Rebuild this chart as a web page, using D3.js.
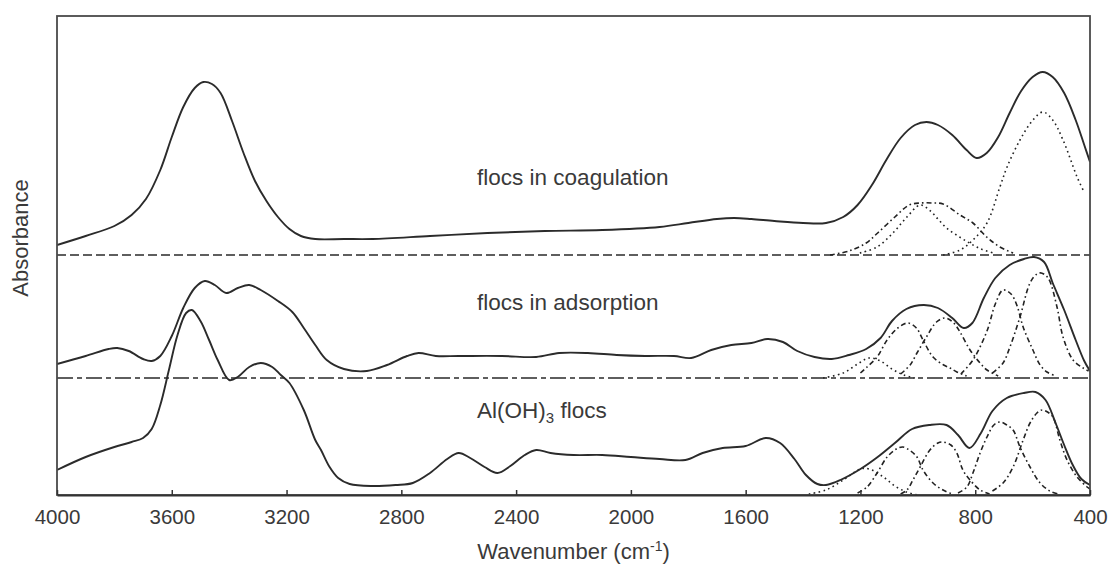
<!DOCTYPE html>
<html>
<head>
<meta charset="utf-8">
<script src="https://cdn.jsdelivr.net/npm/d3@7"></script>
<style>
  html, body { margin: 0; padding: 0; background: #ffffff; }
  svg { display: block; }
  text { font-family: "Liberation Sans", Arial, sans-serif; fill: #3a3a3a; }
</style>
</head>
<body>
<svg id="chart" width="1108" height="572"></svg>
<script>
// ---- data: FTIR spectra, [wavenumber (cm-1), absorbance above the spectrum's own baseline] ----
const wavenumberTicks = [4000, 3600, 3200, 2800, 2400, 2000, 1600, 1200, 800, 400];
const spectrumNames = ["flocs in coagulation", "flocs in adsorption", "Al(OH)3 flocs"];
const baselineOffsets = [2.40, 1.17, 0];   // vertical stacking of the three spectra

const coagulation = [
  [4000,0.10],[3900,0.19],[3800,0.29],[3740,0.40],[3690,0.56],[3640,0.85],[3600,1.18],
  [3560,1.48],[3520,1.67],[3490,1.73],[3460,1.71],[3430,1.62],[3390,1.34],[3350,1.02],
  [3310,0.74],[3270,0.54],[3230,0.38],[3190,0.26],[3150,0.19],[3100,0.16],[3000,0.16],
  [2900,0.16],[2700,0.19],[2500,0.22],[2300,0.24],[2100,0.25],[1900,0.28],[1800,0.32],
  [1700,0.36],[1640,0.37],[1580,0.36],[1500,0.34],[1400,0.32],[1320,0.32],[1260,0.38],
  [1210,0.50],[1160,0.70],[1110,0.95],[1060,1.17],[1010,1.30],[970,1.33],[930,1.30],
  [880,1.20],[830,1.05],[795,0.97],[760,1.02],[720,1.18],[680,1.42],[640,1.64],
  [600,1.78],[565,1.83],[530,1.78],[490,1.62],[450,1.35],[420,1.10],[400,0.93]
];
const adsorption = [
  [4000,0.14],[3900,0.22],[3820,0.29],[3790,0.30],[3750,0.27],[3700,0.19],[3670,0.17],
  [3640,0.22],[3600,0.42],[3560,0.70],[3520,0.90],[3485,0.97],[3450,0.93],[3410,0.85],
  [3370,0.90],[3330,0.93],[3290,0.88],[3230,0.77],[3180,0.66],[3140,0.50],[3100,0.33],
  [3060,0.18],[3000,0.09],[2920,0.07],[2850,0.13],[2780,0.22],[2740,0.25],[2680,0.22],
  [2600,0.22],[2450,0.22],[2330,0.21],[2250,0.25],[2150,0.25],[2050,0.23],[1950,0.22],
  [1850,0.22],[1790,0.20],[1720,0.28],[1650,0.33],[1580,0.35],[1525,0.39],[1470,0.36],
  [1420,0.27],[1360,0.21],[1300,0.19],[1240,0.23],[1180,0.29],[1130,0.40],[1090,0.57],
  [1040,0.69],[980,0.73],[930,0.70],[880,0.60],[840,0.50],[810,0.55],[770,0.80],
  [730,1.00],[680,1.13],[630,1.19],[595,1.21],[560,1.16],[530,0.95],[490,0.68],
  [450,0.38],[420,0.17],[400,0.07]
];
const aluminiumHydroxide = [
  [4000,0.25],[3900,0.38],[3800,0.48],[3740,0.53],[3700,0.57],[3670,0.66],[3640,0.90],
  [3610,1.25],[3580,1.60],[3550,1.82],[3530,1.85],[3500,1.74],[3470,1.55],[3440,1.35],
  [3400,1.15],[3370,1.18],[3330,1.28],[3290,1.32],[3250,1.28],[3220,1.20],[3190,1.12],
  [3140,0.85],[3100,0.55],[3080,0.45],[3050,0.28],[3020,0.17],[2980,0.11],[2900,0.09],
  [2820,0.10],[2760,0.12],
  [2700,0.22],[2640,0.36],[2600,0.42],[2560,0.37],[2510,0.28],[2465,0.22],[2420,0.29],
  [2370,0.40],[2330,0.45],[2280,0.42],[2200,0.40],[2100,0.40],[2000,0.38],[1900,0.36],
  [1810,0.35],[1750,0.42],[1680,0.47],[1600,0.49],[1530,0.57],[1480,0.52],[1430,0.36],
  [1390,0.20],[1350,0.11],[1320,0.10],[1270,0.15],[1200,0.26],[1140,0.38],[1080,0.52],
  [1020,0.66],[960,0.70],[900,0.70],[860,0.60],[820,0.47],[780,0.62],[740,0.84],
  [690,0.97],[630,1.02],[590,1.03],[555,0.95],[520,0.72],[490,0.50],[460,0.30],
  [430,0.16],[400,0.10]
];

// fitted component bands (1400-400 cm-1 region)
const coagulationBands = [
  [[1306,0],[1240,0.04],[1180,0.12],[1140,0.22],[1080,0.38],[1030,0.50],[990,0.52],[950,0.52],
   [912,0.51],[853,0.40],[808,0.32],[760,0.18],[714,0.08],[668,0.02]],
  [[1202,0.02],[1142,0.08],[1087,0.22],[1038,0.38],[992,0.50],[960,0.45],[930,0.36],[900,0.27],
   [860,0.19],[820,0.12],[780,0.06],[738,0.02]],
  [[912,0],[853,0.05],[808,0.15],[759,0.32],[714,0.68],[689,0.88],[644,1.15],[599,1.35],
   [564,1.43],[530,1.35],[494,1.15],[445,0.78],[424,0.65]]
];
const adsorptionBands = [
  [[1330,0],[1260,0.05],[1210,0.14],[1170,0.20],[1130,0.17],[1090,0.09],[1050,0.03],[1010,0]],
  [[1200,0.05],[1177,0.11],[1142,0.21],[1107,0.38],[1070,0.50],[1034,0.55],[1005,0.50],[982,0.38],
   [947,0.21],[910,0.13],[888,0.10],[864,0.06],[830,0.02]],
  [[1060,0.04],[1027,0.13],[1003,0.25],[968,0.42],[935,0.56],[905,0.60],[875,0.55],[853,0.46],
   [818,0.28],[783,0.15],[759,0.08],[720,0.02]],
  [[850,0.04],[808,0.18],[759,0.47],[730,0.74],[703,0.88],[675,0.84],[654,0.72],[633,0.51],
   [599,0.28],[574,0.13],[550,0.06],[520,0.02]],
  [[740,0.05],[703,0.15],[679,0.31],[644,0.61],[609,0.95],[585,1.04],[570,1.05],[546,1.00],
   [515,0.71],[494,0.41],[459,0.18],[424,0.10],[405,0.07]]
];
const aluminiumHydroxideBands = [
  [[1380,0.01],[1320,0.05],[1260,0.15],[1200,0.26],[1170,0.26],[1120,0.18],[1080,0.09],[1040,0.03],[1000,0]],
  [[1210,0.02],[1177,0.08],[1142,0.22],[1107,0.38],[1075,0.46],[1052,0.48],[1025,0.44],[1003,0.38],
   [982,0.25],[947,0.12],[912,0.05],[880,0.01]],
  [[1060,0.01],[1038,0.05],[1017,0.15],[992,0.28],[958,0.45],[930,0.52],[912,0.53],[885,0.50],
   [864,0.42],[843,0.25],[818,0.15],[783,0.05],[750,0.01]],
  [[860,0.02],[829,0.08],[808,0.22],[783,0.42],[759,0.58],[735,0.70],[714,0.73],[690,0.70],
   [668,0.65],[644,0.48],[609,0.28],[574,0.12],[540,0.04],[510,0.01]],
  [[740,0.04],[703,0.12],[668,0.28],[633,0.55],[609,0.72],[585,0.82],[567,0.85],[548,0.83],
   [529,0.78],[505,0.55],[480,0.35],[445,0.18],[410,0.08],[400,0.06]]
];

// ---- layout ----
const svg = d3.select("#chart");
const plot = { left: 57, right: 1090, top: 16, bottom: 495 };

const x = d3.scaleLinear().domain([4000, 400]).range([plot.left, plot.right]);
const y = d3.scaleLinear().domain([0, 4.79]).range([plot.bottom, plot.top]);

svg.append("defs").append("clipPath").attr("id", "plot-clip")
  .append("rect")
  .attr("x", plot.left).attr("y", plot.top)
  .attr("width", plot.right - plot.left).attr("height", plot.bottom - plot.top);

const g = svg.append("g").attr("clip-path", "url(#plot-clip)");

const lineFor = (offset) => d3.line()
  .x(d => x(d[0]))
  .y(d => y(d[1] + offset))
  .curve(d3.curveCatmullRom.alpha(0.5));

// dashed baselines of the two upper spectra
const baselineDash = ["9,4", "16,4,5,4"];
[0, 1].forEach(i => {
  g.append("line")
    .attr("x1", x(4000)).attr("x2", x(400))
    .attr("y1", y(baselineOffsets[i])).attr("y2", y(baselineOffsets[i]))
    .attr("stroke", "#2a2a2a").attr("stroke-width", 1.6)
    .attr("stroke-dasharray", baselineDash[i]);
});

// fitted bands: dash-dot ("dd") or dotted ("dot")
const bandSets = [coagulationBands, adsorptionBands, aluminiumHydroxideBands];
const bandKinds = [
  ["dd", "dot", "dot"],
  ["dot", "dd", "dd", "dd", "dd"],
  ["dot", "dd", "dd", "dd", "dd"]
];
const dashOf = { dd: "5,3,1.6,3", dot: "1.6,3.4" };
bandSets.forEach((bands, i) => {
  const line = lineFor(baselineOffsets[i]);
  bands.forEach((band, j) => {
    g.append("path")
      .attr("d", line(band))
      .attr("fill", "none")
      .attr("stroke", "#222")
      .attr("stroke-width", 1.6)
      .attr("stroke-dasharray", dashOf[bandKinds[i][j]]);
  });
});

// measured spectra
const spectra = [coagulation, adsorption, aluminiumHydroxide];
spectra.forEach((s, i) => {
  g.append("path")
    .attr("d", lineFor(baselineOffsets[i])(s))
    .attr("fill", "none")
    .attr("stroke", "#2b2b2b")
    .attr("stroke-width", 1.9)
    .attr("stroke-linejoin", "round");
});

// frame
svg.append("rect")
  .attr("x", plot.left).attr("y", plot.top)
  .attr("width", plot.right - plot.left).attr("height", plot.bottom - plot.top)
  .attr("fill", "none").attr("stroke", "#4a4a4a").attr("stroke-width", 1.8);

// bottom axis with inward ticks
const axis = d3.axisBottom(x)
  .tickValues(wavenumberTicks)
  .tickSizeInner(-5)
  .tickSizeOuter(0)
  .tickPadding(14)
  .tickFormat(d3.format("d"));

const axisG = svg.append("g")
  .attr("transform", `translate(0,${plot.bottom})`)
  .call(axis);
axisG.select(".domain").attr("stroke", "#333").attr("stroke-width", 2);
axisG.selectAll(".tick line").attr("stroke", "#333").attr("stroke-width", 1.5);
axisG.selectAll(".tick text")
  .style("font-family", '"Liberation Sans", Arial, sans-serif')
  .style("font-size", "20.5px")
  .attr("fill", "#3a3a3a");

// axis titles
const xTitle = svg.append("text")
  .attr("x", (plot.left + plot.right) / 2)
  .attr("y", 559)
  .attr("text-anchor", "middle")
  .style("font-size", "22px");
xTitle.append("tspan").text("Wavenumber (cm");
xTitle.append("tspan").attr("dy", -8).style("font-size", "14px").text("-1");
xTitle.append("tspan").attr("dy", 8).text(")");

svg.append("text")
  .attr("transform", "translate(28,238) rotate(-90)")
  .attr("text-anchor", "middle")
  .style("font-size", "22px")
  .text("Absorbance");

// spectrum names
const nameY = [3.10, 1.85, 0.77];
spectrumNames.forEach((name, i) => {
  const t = svg.append("text")
    .attr("x", x(2536))
    .attr("y", y(nameY[i]))
    .style("font-size", "22.5px");
  const m = name.match(/^(.*?)(\d)(.*)$/);
  if (m) {
    t.append("tspan").text(m[1]);
    t.append("tspan").attr("dy", 5).style("font-size", "15px").text(m[2]);
    t.append("tspan").attr("dy", -5).text(m[3]);
  } else {
    t.text(name);
  }
});
</script>
</body>
</html>
